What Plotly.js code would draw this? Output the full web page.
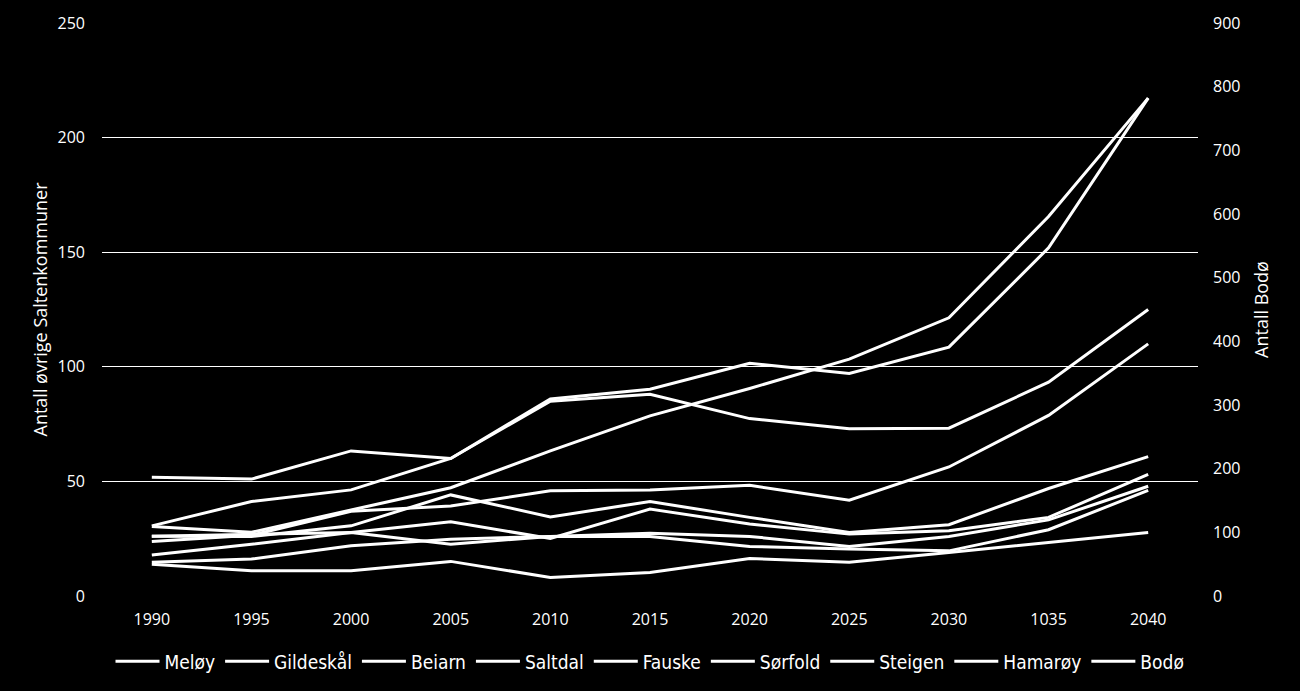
<!DOCTYPE html>
<html>
<head>
<meta charset="utf-8">
<script src="https://cdn.plot.ly/plotly-3.0.1.min.js"></script>
<style>
  html, body { margin: 0; padding: 0; background: #000; }
  #chart { width: 1300px; height: 691px; }
</style>
</head>
<body>
<div id="chart"></div>
<script>
// Categories (note: "1035" as printed in the original)
const years = ['1990', '1995', '2000', '2005', '2010', '2015', '2020', '2025', '2030', '1035', '2040'];

// Left axis series (Antall øvrige Saltenkommuner)
const meloy     = [30.6, 41.2, 46.3, 60.0, 85.0, 88.0, 77.4, 73.0, 73.2, 93.3, 125.0];
const gildeskal = [26.1, 27.0, 27.7, 22.6, 26.0, 26.0, 21.6, 20.5, 19.7, 28.9, 46.1];
const beiarn    = [13.9, 11.0, 11.0, 15.1, 8.1, 10.3, 16.4, 14.7, 19.0, 23.4, 27.7];
const saltdal   = [23.8, 26.5, 37.0, 39.3, 45.9, 46.3, 48.3, 41.8, 56.3, 78.8, 110.0];
const fauske    = [51.8, 51.0, 63.3, 60.0, 86.0, 90.2, 101.5, 97.1, 108.6, 151.9, 217.2];
const sorfold   = [14.7, 16.1, 21.9, 24.8, 26.0, 27.4, 26.0, 21.6, 26.0, 33.2, 47.9];
const steigen   = [26.1, 26.0, 30.6, 44.1, 34.5, 41.2, 34.3, 27.7, 31.1, 46.9, 60.8];
const hamaroy   = [17.9, 22.6, 27.7, 32.4, 25.1, 37.9, 31.4, 27.0, 28.5, 34.3, 53.1];

// Right axis series (Antall Bodø)
const bodo      = [109, 100, 135, 170, 228, 283, 326, 372, 437, 596, 782];

const names = ['Meløy', 'Gildeskål', 'Beiarn', 'Saltdal', 'Fauske', 'Sørfold', 'Steigen', 'Hamarøy', 'Bodø'];
const seriesLeft = [meloy, gildeskal, beiarn, saltdal, fauske, sorfold, steigen, hamaroy];

const lineStyle = { color: '#ffffff', width: 3 };

const traces = seriesLeft.map((vals, i) => ({
  type: 'scatter', mode: 'lines', x: years, y: vals, name: names[i],
  line: lineStyle, yaxis: 'y'
}));
traces.push({
  type: 'scatter', mode: 'lines', x: years, y: bodo, name: names[8],
  line: lineStyle, yaxis: 'y2'
});

const tickFont = { family: 'Open Sans, sans-serif', size: 16, color: '#ffffff' };

const layout = {
  width: 1300, height: 691,
  paper_bgcolor: '#000000', plot_bgcolor: '#000000',
  margin: { l: 102, r: 102, t: 23, b: 94 },
  showlegend: true,
  legend: {
    orientation: 'h', x: 0.5, xanchor: 'center', y: -0.112, yanchor: 'middle',
    font: { family: 'DejaVu Sans Condensed, DejaVu Sans, sans-serif', size: 19, color: '#ffffff' },
    bgcolor: 'rgba(0,0,0,0)', itemwidth: 44, traceorder: 'normal'
  },
  xaxis: {
    type: 'category', range: [-0.5, 10.5], tickfont: tickFont, showgrid: false, zeroline: false,
    showline: false, ticks: '', ticklabelstandoff: 12
  },
  yaxis: {
    range: [0, 250], dtick: 50, tickfont: tickFont,
    showgrid: true, gridcolor: '#ffffff', gridwidth: 1,
    zeroline: false, showline: false, ticks: '', ticklabelstandoff: 16,
    title: { text: 'Antall øvrige Saltenkommuner', font: { family: 'Open Sans, sans-serif', size: 18, color: '#ffffff' }, standoff: 5 }
  },
  yaxis2: {
    range: [0, 900], dtick: 100, overlaying: 'y', side: 'right', tickfont: tickFont,
    showgrid: false, zeroline: false, showline: false, ticks: '', ticklabelstandoff: 14,
    title: { text: 'Antall Bodø', font: { family: 'Open Sans, sans-serif', size: 18, color: '#ffffff' }, standoff: 15 }
  }
};

Plotly.newPlot('chart', traces, layout, { staticPlot: true, displayModeBar: false });
</script>
</body>
</html>
